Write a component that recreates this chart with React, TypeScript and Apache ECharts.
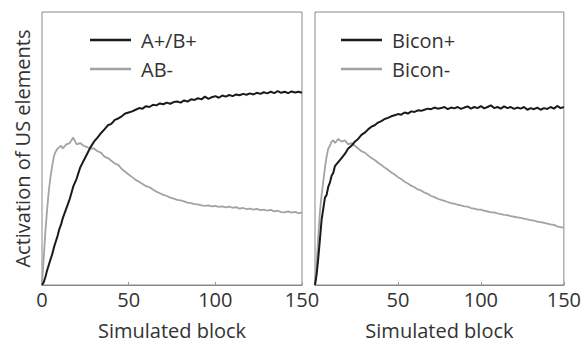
import React, { useEffect, useRef } from "react";
import * as echarts from "echarts";

const blocks = [
  0, 1, 2, 3, 4, 5, 6, 7, 8, 9, 10, 11, 12,
  14, 16, 18, 20, 22, 24, 26, 28, 30, 32, 34, 36, 38, 40, 42, 44, 46, 48, 50,
  52, 54, 56, 58, 60, 62, 64, 66, 68, 70, 72, 74, 76, 78, 80, 82, 84, 86, 88, 90,
  92, 94, 96, 98, 100, 102, 104, 106, 108, 110, 112, 114, 116, 118, 120, 122, 124, 126, 128, 130,
  132, 134, 136, 138, 140, 142, 144, 146, 148, 150,
];

const abPlus = [
  0, 0.01, 0.03, 0.055, 0.075, 0.095, 0.115, 0.14, 0.16, 0.18, 0.205, 0.222, 0.245,
  0.28, 0.315, 0.36, 0.39, 0.43, 0.455, 0.48, 0.505, 0.525, 0.54, 0.556, 0.57, 0.585, 0.59, 0.605, 0.61, 0.618, 0.628, 0.632,
  0.636, 0.642, 0.648, 0.646, 0.655, 0.652, 0.66, 0.658, 0.665, 0.662, 0.668, 0.664, 0.67, 0.672, 0.668, 0.676, 0.672, 0.68, 0.678, 0.684,
  0.68, 0.69, 0.682, 0.688, 0.692, 0.686, 0.694, 0.69, 0.696, 0.692, 0.698, 0.695, 0.7, 0.697, 0.702, 0.698, 0.704, 0.7, 0.706, 0.702,
  0.708, 0.703, 0.71, 0.704, 0.708, 0.703, 0.709, 0.705, 0.708, 0.704,
];

const abMinus = [
  0, 0.1, 0.2, 0.28, 0.35, 0.4, 0.44, 0.475, 0.49, 0.5, 0.505, 0.51, 0.5,
  0.515, 0.52, 0.54, 0.515, 0.52, 0.51, 0.505, 0.5, 0.5, 0.49, 0.485, 0.47, 0.465, 0.455, 0.445, 0.44, 0.425, 0.415, 0.405,
  0.395, 0.385, 0.378, 0.37, 0.362, 0.358, 0.35, 0.342, 0.336, 0.33, 0.326, 0.32, 0.316, 0.312, 0.31, 0.306, 0.302, 0.3, 0.296, 0.295,
  0.292, 0.29, 0.292, 0.288, 0.29, 0.286, 0.288, 0.284, 0.287, 0.283, 0.285, 0.28, 0.282, 0.278, 0.28, 0.276, 0.279, 0.274, 0.276, 0.272,
  0.275, 0.27, 0.272, 0.267, 0.266, 0.27, 0.265, 0.268, 0.263, 0.265,
];

const biconPlus = [
  0, 0.04, 0.1, 0.17, 0.24, 0.28, 0.32, 0.33, 0.36, 0.375, 0.4, 0.41, 0.435,
  0.45, 0.465, 0.48, 0.5, 0.51, 0.525, 0.535, 0.55, 0.558, 0.57, 0.58, 0.585, 0.595, 0.6, 0.608, 0.612, 0.618, 0.622, 0.626,
  0.624, 0.632, 0.628, 0.636, 0.634, 0.64, 0.638, 0.642, 0.646, 0.644, 0.65, 0.646, 0.648, 0.652, 0.644, 0.65, 0.647, 0.652, 0.645, 0.65,
  0.654, 0.646, 0.652, 0.648, 0.655, 0.647, 0.652, 0.658, 0.648, 0.652, 0.646, 0.654, 0.648, 0.652, 0.645, 0.65, 0.646, 0.652, 0.642, 0.648,
  0.644, 0.65, 0.642, 0.648, 0.645, 0.652, 0.646, 0.656, 0.648, 0.652,
];

const biconMinus = [
  0, 0.08, 0.18, 0.27, 0.33, 0.38, 0.43, 0.47, 0.5, 0.51, 0.525, 0.53, 0.52,
  0.535, 0.525, 0.53, 0.515, 0.52, 0.51, 0.5, 0.49, 0.485, 0.475, 0.465, 0.458, 0.448, 0.44, 0.43, 0.422, 0.412, 0.405, 0.395,
  0.388, 0.378, 0.372, 0.364, 0.358, 0.35, 0.346, 0.338, 0.334, 0.326, 0.322, 0.316, 0.312, 0.308, 0.304, 0.3, 0.298, 0.294, 0.292, 0.288,
  0.287, 0.282, 0.28, 0.276, 0.276, 0.272, 0.27, 0.266, 0.266, 0.262, 0.26, 0.257, 0.256, 0.252, 0.25, 0.248, 0.246, 0.243, 0.24, 0.238,
  0.236, 0.232, 0.23, 0.228, 0.225, 0.222, 0.22, 0.215, 0.212, 0.21,
];

const xTicks = { min: 0, max: 150, interval: 50 };
const FONT = "'Open Sans', sans-serif";
const TEXT = "#333333";
const BLACK = "#1a1a1a";
const GRAY = "#a3a3a3";

function pairs(vals: number[]) {
  return blocks.map((b, i) => [b, vals[i]]);
}

export default function App() {
  const ref = useRef<HTMLDivElement>(null);
  useEffect(() => {
    document.body.style.margin = "0";
    if (!ref.current) return;
    const chart = echarts.init(ref.current, undefined, { renderer: "svg" });
    const xAxisBase = (showMin: boolean) => ({
      type: "value" as const,
      min: xTicks.min,
      max: xTicks.max,
      interval: xTicks.interval,
      name: "Simulated block",
      nameLocation: "middle" as const,
      nameGap: 35,
      nameTextStyle: { fontFamily: FONT, fontSize: 20, color: TEXT },
      axisLine: { show: true, lineStyle: { color: "#888", width: 1 } },
      axisTick: { show: true, inside: true, length: 3, lineStyle: { color: "#999" } },
      axisLabel: { showMinLabel: showMin, fontFamily: FONT, fontSize: 20, color: TEXT, margin: 4 },
      splitLine: { show: false },
    });
    const yAxisBase = {
      type: "value" as const,
      min: 0,
      max: 1,
      axisLine: { show: false },
      axisTick: { show: false },
      axisLabel: { show: false },
      splitLine: { show: false },
    };
    const lineSeries = (name: string, idx: number, vals: number[], color: string) => ({
      type: "line" as const,
      name,
      xAxisIndex: idx,
      yAxisIndex: idx,
      data: pairs(vals),
      showSymbol: false,
      symbol: "none",
      lineStyle: { color, width: color === BLACK ? 2 : 1.8 },
      itemStyle: { color },
      z: color === BLACK ? 3 : 2,
    });
    const legendBase = {
      orient: "vertical" as const,
      icon: "rect",
      itemWidth: 41,
      itemHeight: 2.5,
      itemGap: 7,
      padding: 0,
      textStyle: { fontFamily: FONT, fontSize: 20, color: TEXT, lineHeight: 22, padding: [0, 0, 0, 5] },
      selectedMode: false,
    };
    chart.setOption({
      animation: false,
      backgroundColor: "#ffffff",
      grid: [
        { left: 42, top: 12, width: 260, height: 276, show: true, borderColor: "#888", borderWidth: 1, backgroundColor: "transparent" },
        { left: 315, top: 12, width: 259, height: 276, show: true, borderColor: "#888", borderWidth: 1, backgroundColor: "transparent" },
      ],
      xAxis: [
        { ...xAxisBase(true), gridIndex: 0 },
        { ...xAxisBase(false), gridIndex: 1 },
      ],
      yAxis: [
        {
          ...yAxisBase,
          gridIndex: 0,
          name: "Activation of US elements",
          nameLocation: "middle",
          nameRotate: 90,
          nameGap: 10,
          nameTextStyle: { fontFamily: FONT, fontSize: 20, color: TEXT },
        },
        { ...yAxisBase, gridIndex: 1 },
      ],
      legend: [
        { ...legendBase, left: 90, top: 29, data: ["A+/B+", "AB-"] },
        { ...legendBase, left: 341, top: 29, data: ["Bicon+", "Bicon-"] },
      ],
      series: [
        lineSeries("AB-", 0, abMinus, GRAY),
        lineSeries("A+/B+", 0, abPlus, BLACK),
        lineSeries("Bicon-", 1, biconMinus, GRAY),
        lineSeries("Bicon+", 1, biconPlus, BLACK),
      ],
    });
    return () => chart.dispose();
  }, []);
  return <div ref={ref} style={{ width: 584, height: 345 }} />;
}
